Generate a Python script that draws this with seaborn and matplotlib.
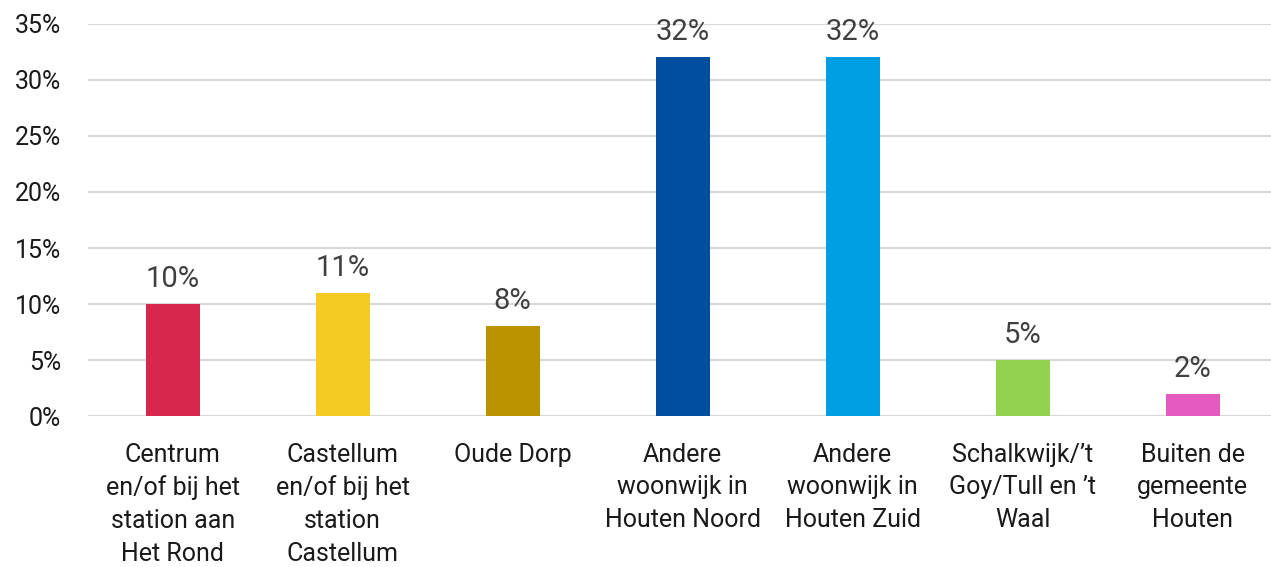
import matplotlib.pyplot as plt
import seaborn as sns
import pandas as pd
from matplotlib.ticker import PercentFormatter

# data
categories = [
    "Centrum\nen/of bij het\nstation aan\nHet Rond",
    "Castellum\nen/of bij het\nstation\nCastellum",
    "Oude Dorp",
    "Andere\nwoonwijk in\nHouten Noord",
    "Andere\nwoonwijk in\nHouten Zuid",
    "Schalkwijk/\u2019t\nGoy/Tull en \u2019t\nWaal",
    "Buiten de\ngemeente\nHouten",
]
percentages = [10, 11, 8, 32, 32, 5, 2]
bar_colors = ["#D7264B", "#F4C922", "#B99400", "#004F9F", "#009FE3", "#95D150", "#E35BBF"]

sns.set_theme(style="white")
plt.rcParams["font.family"] = ["Roboto", "DejaVu Sans"]

df = pd.DataFrame({"category": categories, "pct": percentages})

fig = plt.figure(figsize=(12.71, 5.67), dpi=100)
ax = fig.add_axes([0.069, 0.266, 0.9363, 0.692])

sns.barplot(data=df, x="category", y="pct", hue="category", palette=bar_colors,
            width=0.32, legend=False, saturation=1, linewidth=0, ax=ax, zorder=3)

ax.set_ylim(0, 35)
ax.set_yticks(range(0, 36, 5))
ax.yaxis.set_major_formatter(PercentFormatter(decimals=0))
ax.grid(axis="y", color="#d9d9d9", linewidth=1.5, zorder=0)
ax.set_axisbelow(True)
ax.set_xlim(-0.5, len(categories) - 0.5)
for s in ax.spines.values():
    s.set_visible(False)
ax.tick_params(axis="both", length=0, labelsize=18, colors="#1a1a1a")
ax.tick_params(axis="y", pad=19)
ax.tick_params(axis="x", pad=19)
for lbl in ax.get_xticklabels():
    lbl.set_linespacing(1.45)
ax.set_xlabel("")
ax.set_ylabel("")

for i, v in enumerate(percentages):
    ax.annotate(f"{v}%", (i, v), xytext=(0, 8), textcoords="offset points",
                ha="center", va="bottom", fontsize=21, color="#404040")

fig.savefig("out.png", dpi=100)
